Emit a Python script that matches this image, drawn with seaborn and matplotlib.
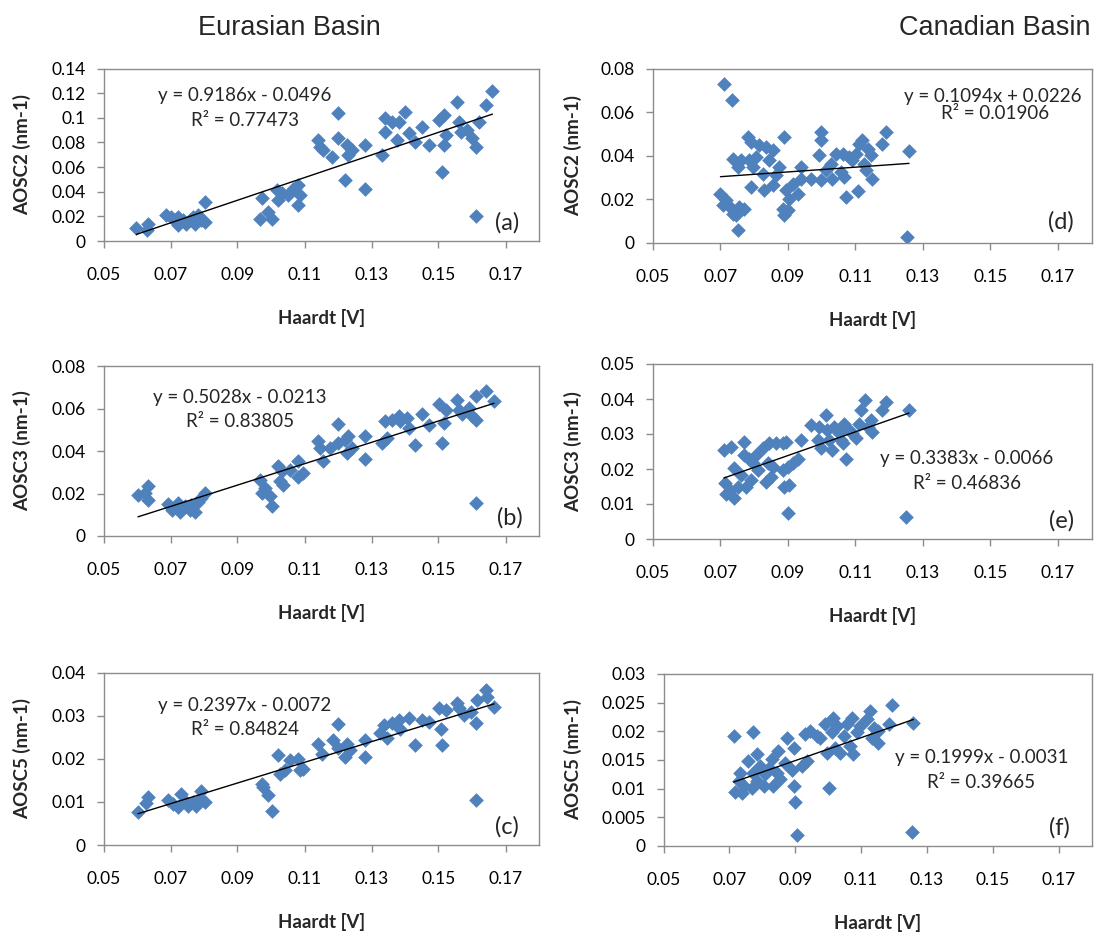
import numpy as np
import matplotlib
matplotlib.use("Agg")
import matplotlib.pyplot as plt
from matplotlib.ticker import FuncFormatter, MultipleLocator
import seaborn as sns

# ---- data ----
# Eurasian Basin
a_x = [0.0598, 0.0633, 0.0630, 0.0688, 0.0702, 0.0722, 0.0722, 0.0737, 0.0747, 0.0757,
       0.0772, 0.0782, 0.0792, 0.0802, 0.0802, 0.0767, 0.0712, 0.0972, 0.0967, 0.0992,
       0.1002, 0.1017, 0.1022, 0.1032, 0.1052, 0.1067, 0.1082, 0.1087, 0.1082, 0.1141,
       0.1146, 0.1156, 0.1181, 0.1201, 0.1201, 0.1221, 0.1226, 0.1231, 0.1241, 0.1281,
       0.1281, 0.1331, 0.1341, 0.1341, 0.1361, 0.1381, 0.1376, 0.1401, 0.1411, 0.1431,
       0.1451, 0.1471, 0.1501, 0.1516, 0.1511, 0.1516, 0.1521, 0.1556, 0.1561, 0.1566,
       0.1586, 0.1601, 0.1611, 0.1611, 0.1621, 0.1641, 0.1661]
a_y = [0.0109, 0.0141, 0.0092, 0.0209, 0.0196, 0.0128, 0.0196, 0.0168, 0.0141, 0.0168,
       0.0141, 0.0209, 0.0168, 0.0155, 0.0318, 0.0196, 0.0168, 0.0345, 0.0182, 0.0236,
       0.0182, 0.0413, 0.0331, 0.0386, 0.0372, 0.0426, 0.0453, 0.0372, 0.0291, 0.0820,
       0.0766, 0.0739, 0.0684, 0.1037, 0.0834, 0.0494, 0.0779, 0.0698, 0.0739, 0.0779,
       0.0426, 0.0698, 0.0888, 0.0997, 0.0969, 0.0969, 0.0820, 0.1051, 0.0874, 0.0806,
       0.0929, 0.0779, 0.0983, 0.1024, 0.0562, 0.0779, 0.0861, 0.1132, 0.0969, 0.0888,
       0.0901, 0.0834, 0.0766, 0.0201, 0.0969, 0.1105, 0.1214]

b_x = [0.0603, 0.0633, 0.0633, 0.0623, 0.0693, 0.0703, 0.0722, 0.0727, 0.0742, 0.0757,
       0.0772, 0.0782, 0.0792, 0.0802, 0.0762, 0.0967, 0.0972, 0.0982, 0.0997, 0.1002,
       0.1022, 0.1027, 0.1032, 0.1037, 0.1057, 0.1082, 0.1082, 0.1097, 0.1141, 0.1146,
       0.1156, 0.1176, 0.1201, 0.1201, 0.1221, 0.1226, 0.1231, 0.1241, 0.1281, 0.1281,
       0.1331, 0.1341, 0.1346, 0.1361, 0.1381, 0.1386, 0.1406, 0.1411, 0.1431, 0.1451,
       0.1471, 0.1501, 0.1511, 0.1516, 0.1521, 0.1556, 0.1561, 0.1571, 0.1591, 0.1601,
       0.1611, 0.1611, 0.1611, 0.1641, 0.1666]
b_y = [0.0194, 0.0233, 0.0170, 0.0202, 0.0151, 0.0123, 0.0154, 0.0115, 0.0139, 0.0123,
       0.0115, 0.0162, 0.0178, 0.0202, 0.0146, 0.0265, 0.0202, 0.0225, 0.0186, 0.0139,
       0.0328, 0.0257, 0.0304, 0.0241, 0.0312, 0.0351, 0.0280, 0.0296, 0.0446, 0.0414,
       0.0351, 0.0414, 0.0529, 0.0438, 0.0454, 0.0391, 0.0469, 0.0414, 0.0469, 0.0362,
       0.0438, 0.0540, 0.0461, 0.0548, 0.0564, 0.0540, 0.0556, 0.0509, 0.0430, 0.0572,
       0.0524, 0.0619, 0.0438, 0.0532, 0.0595, 0.0639, 0.0595, 0.0572, 0.0603, 0.0564,
       0.0548, 0.0157, 0.0658, 0.0682, 0.0635]

c_x = [0.0603, 0.0633, 0.0628, 0.0693, 0.0707, 0.0722, 0.0732, 0.0742, 0.0752, 0.0767,
       0.0777, 0.0792, 0.0802, 0.0787, 0.0972, 0.0977, 0.0992, 0.1002, 0.1022, 0.1027,
       0.1042, 0.1057, 0.1082, 0.1087, 0.1097, 0.1141, 0.1151, 0.1186, 0.1201, 0.1201,
       0.1221, 0.1226, 0.1236, 0.1281, 0.1281, 0.1326, 0.1336, 0.1346, 0.1361, 0.1381,
       0.1386, 0.1411, 0.1431, 0.1451, 0.1471, 0.1501, 0.1506, 0.1511, 0.1521, 0.1556,
       0.1561, 0.1576, 0.1596, 0.1611, 0.1611, 0.1616, 0.1641, 0.1646, 0.1666]
c_y = [0.0076, 0.0111, 0.0097, 0.0105, 0.0095, 0.0088, 0.0119, 0.0103, 0.0091, 0.0099,
       0.0091, 0.0126, 0.0099, 0.0107, 0.0142, 0.0134, 0.0115, 0.0078, 0.0208, 0.0165,
       0.0173, 0.0196, 0.0200, 0.0173, 0.0177, 0.0235, 0.0212, 0.0243, 0.0280, 0.0224,
       0.0204, 0.0235, 0.0220, 0.0243, 0.0204, 0.0259, 0.0278, 0.0247, 0.0282, 0.0290,
       0.0270, 0.0294, 0.0231, 0.0290, 0.0286, 0.0317, 0.0270, 0.0231, 0.0313, 0.0330,
       0.0317, 0.0302, 0.0309, 0.0282, 0.0105, 0.0337, 0.0360, 0.0344, 0.0321]

# Canadian Basin
d_x = [0.0710, 0.0734, 0.0700, 0.0707, 0.0717, 0.0727, 0.0736, 0.0746, 0.0751, 0.0756,
       0.0771, 0.0736, 0.0751, 0.0761, 0.0781, 0.0791, 0.0786, 0.0796, 0.0791, 0.0805,
       0.0815, 0.0825, 0.0830, 0.0835, 0.0845, 0.0855, 0.0855, 0.0865, 0.0874, 0.0889,
       0.0884, 0.0889, 0.0894, 0.0899, 0.0904, 0.0914, 0.0929, 0.0938, 0.0938, 0.0968,
       0.0993, 0.0998, 0.0998, 0.0998, 0.1012, 0.1027, 0.1032, 0.1042, 0.1057, 0.1062,
       0.1067, 0.1071, 0.1081, 0.1091, 0.1101, 0.1109, 0.1111, 0.1121, 0.1126, 0.1131,
       0.1136, 0.1145, 0.1150, 0.1180, 0.1190, 0.1259, 0.1254]
d_y = [0.0731, 0.0654, 0.0225, 0.0172, 0.0195, 0.0164, 0.0133, 0.0126, 0.0057, 0.0164,
       0.0156, 0.0386, 0.0348, 0.0379, 0.0486, 0.0463, 0.0379, 0.0348, 0.0256, 0.0394,
       0.0448, 0.0317, 0.0241, 0.0440, 0.0379, 0.0425, 0.0264, 0.0310, 0.0348, 0.0486,
       0.0156, 0.0126, 0.0241, 0.0149, 0.0202, 0.0271, 0.0225, 0.0348, 0.0294, 0.0294,
       0.0402, 0.0509, 0.0470, 0.0287, 0.0333, 0.0363, 0.0294, 0.0409, 0.0325, 0.0409,
       0.0302, 0.0210, 0.0394, 0.0379, 0.0409, 0.0238, 0.0455, 0.0470, 0.0363, 0.0333,
       0.0432, 0.0402, 0.0294, 0.0455, 0.0509, 0.0421, 0.0026]

e_x = [0.0710, 0.0732, 0.0712, 0.0715, 0.0727, 0.0741, 0.0741, 0.0751, 0.0761, 0.0771,
       0.0771, 0.0776, 0.0786, 0.0791, 0.0796, 0.0805, 0.0810, 0.0825, 0.0835, 0.0840,
       0.0845, 0.0850, 0.0855, 0.0865, 0.0884, 0.0884, 0.0889, 0.0894, 0.0899, 0.0899,
       0.0904, 0.0914, 0.0929, 0.0938, 0.0968, 0.0988, 0.0993, 0.0998, 0.1012, 0.1017,
       0.1022, 0.1032, 0.1037, 0.1052, 0.1057, 0.1062, 0.1067, 0.1071, 0.1081, 0.1091,
       0.1101, 0.1111, 0.1116, 0.1129, 0.1136, 0.1145, 0.1150, 0.1180, 0.1190, 0.1259,
       0.1249]
e_y = [0.0254, 0.0264, 0.0159, 0.0130, 0.0140, 0.0116, 0.0202, 0.0150, 0.0183, 0.0278,
       0.0240, 0.0150, 0.0230, 0.0169, 0.0216, 0.0240, 0.0197, 0.0259, 0.0164, 0.0216,
       0.0273, 0.0178, 0.0207, 0.0273, 0.0273, 0.0197, 0.0150, 0.0278, 0.0207, 0.0075,
       0.0154, 0.0216, 0.0230, 0.0283, 0.0326, 0.0283, 0.0321, 0.0259, 0.0354, 0.0311,
       0.0283, 0.0254, 0.0321, 0.0302, 0.0283, 0.0273, 0.0330, 0.0228, 0.0311, 0.0302,
       0.0288, 0.0330, 0.0369, 0.0397, 0.0321, 0.0340, 0.0307, 0.0369, 0.0392, 0.0369,
       0.0062]

f_x = [0.0713, 0.0718, 0.0733, 0.0728, 0.0743, 0.0738, 0.0758, 0.0771, 0.0768, 0.0773,
       0.0784, 0.0784, 0.0794, 0.0804, 0.0809, 0.0819, 0.0829, 0.0834, 0.0844, 0.0849,
       0.0854, 0.0870, 0.0875, 0.0890, 0.0895, 0.0895, 0.0900, 0.0905, 0.0920, 0.0935,
       0.0930, 0.0946, 0.0966, 0.0976, 0.0991, 0.0996, 0.1004, 0.1011, 0.1016, 0.1022,
       0.1027, 0.1037, 0.1047, 0.1057, 0.1067, 0.1072, 0.1077, 0.1087, 0.1097, 0.1118,
       0.1128, 0.1133, 0.1138, 0.1153, 0.1153, 0.1184, 0.1194, 0.1259, 0.1254]
f_y = [0.0192, 0.0095, 0.0127, 0.0113, 0.0104, 0.0092, 0.0148, 0.0198, 0.0101, 0.0127,
       0.0160, 0.0113, 0.0139, 0.0104, 0.0125, 0.0136, 0.0151, 0.0104, 0.0127, 0.0165,
       0.0116, 0.0145, 0.0189, 0.0133, 0.0104, 0.0171, 0.0076, 0.0019, 0.0139, 0.0148,
       0.0195, 0.0201, 0.0192, 0.0189, 0.0212, 0.0163, 0.0101, 0.0198, 0.0224, 0.0171,
       0.0209, 0.0163, 0.0192, 0.0212, 0.0174, 0.0224, 0.0160, 0.0198, 0.0209, 0.0221,
       0.0236, 0.0189, 0.0206, 0.0180, 0.0201, 0.0212, 0.0246, 0.0214, 0.0025]

# trendline coefficients (slope, intercept) and R^2 as printed
fits = {
    "a": (0.9186, -0.0496, "0.77473"),
    "b": (0.5028, -0.0213, "0.83805"),
    "c": (0.2397, -0.0072, "0.84824"),
    "d": (0.1094, 0.0226, "0.01906"),
    "e": (0.3383, -0.0066, "0.46836"),
    "f": (0.1999, -0.0031, "0.39665"),
}
ylabels = {"a": "AOSC2 (nm-1)", "b": "AOSC3 (nm-1)", "c": "AOSC5 (nm-1)",
           "d": "AOSC2 (nm-1)", "e": "AOSC3 (nm-1)", "f": "AOSC5 (nm-1)"}
ymax = {"a": 0.14, "b": 0.08, "c": 0.04, "d": 0.08, "e": 0.05, "f": 0.03}
ystep = {"a": 0.02, "b": 0.02, "c": 0.01, "d": 0.02, "e": 0.01, "f": 0.005}
xticks = [0.05, 0.07, 0.09, 0.11, 0.13, 0.15, 0.17]
data = {"a": (a_x, a_y), "b": (b_x, b_y), "c": (c_x, c_y),
        "d": (d_x, d_y), "e": (e_x, e_y), "f": (f_x, f_y)}

# ---- layout (pixels) ----
W, H = 1101, 934
rects = {  # left, top, right, bottom
    "a": (103.5, 68.5, 539, 241),
    "b": (103.5, 366, 539, 536),
    "c": (103.5, 672.5, 539, 845),
    "d": (653, 68.5, 1091.5, 242.5),
    "e": (653, 364, 1091.5, 539),
    "f": (663.5, 674, 1091.5, 846),
}
eq_pos = {  # centre x, centre y of line1 and line2
    "a": ((245, 95), (245, 120)),
    "b": ((240, 397), (240, 421)),
    "c": ((245, 705), (245, 729)),
    "d": ((993, 96), (995, 113)),
    "e": ((967, 458), (967, 483)),
    "f": ((982, 757), (981, 782)),
}
tag_pos = {"a": (495, 223), "b": (497, 518), "c": (495, 827),
           "d": (1048, 222), "e": (1049, 521), "f": (1049, 828)}
ylab_x = {"a": 22, "b": 22, "c": 22, "d": 573, "e": 573, "f": 573}

sns.set_style("white")
plt.rcParams["font.family"] = ["Lato", "DejaVu Sans"]

blue = "#4F81BD"
grey = "#8C8C8C"
fig = plt.figure(figsize=(W / 100, H / 100), dpi=100)


def fmt(v, pos):
    s = f"{v:.3f}".rstrip("0").rstrip(".")
    return s


for key in "abcdef":
    l, t, r, b = rects[key]
    ax = fig.add_axes([l / W, 1 - b / H, (r - l) / W, (b - t) / H])
    xs, ys = data[key]
    sns.scatterplot(x=xs, y=ys, ax=ax, marker="D", s=56, color=blue,
                    linewidth=0, zorder=2)
    slope, icpt, r2 = fits[key]
    xl = np.array([min(xs), max(xs)])
    ax.plot(xl, slope * xl + icpt, color="black", lw=1.0, zorder=3)

    ax.set_xlim(0.05, 0.18)
    ax.set_ylim(0, ymax[key])
    ax.set_xticks(xticks)
    ax.yaxis.set_major_locator(MultipleLocator(ystep[key]))
    ax.yaxis.set_major_formatter(FuncFormatter(fmt))
    ax.xaxis.set_major_formatter(FuncFormatter(fmt))
    for sp in ax.spines.values():
        sp.set_color(grey)
        sp.set_linewidth(1.0)
    ax.tick_params(axis="both", direction="out", length=5, width=1, color=grey,
                   labelsize=12.5, labelcolor="black")
    ax.tick_params(axis="y", pad=8)
    ax.tick_params(axis="x", pad=14)
    ax.tick_params(left=True, bottom=True)

    w_px, h_px = r - l, b - t
    ax.set_xlabel("Haardt [V]", fontsize=13.5, fontweight="bold")
    ax.xaxis.set_label_coords(0.5, -77 / h_px)
    ax.xaxis.label.set_va("center")
    ax.set_ylabel(ylabels[key], fontsize=13.5, fontweight="bold")
    ax.yaxis.set_label_coords(-(l - ylab_x[key]) / w_px, 0.5)
    ax.yaxis.label.set_va("center")

    sign = "-" if icpt < 0 else "+"
    line1 = f"y = {slope:.4f}x {sign} {abs(icpt):.4f}"
    line2 = f"R² = {r2}"
    (x1, y1), (x2, y2) = eq_pos[key]
    fig.text(x1 / W, 1 - (y1 + 6) / H, line1, ha="center", va="baseline", fontsize=13.5)
    fig.text(x2 / W, 1 - (y2 + 6) / H, line2, ha="center", va="baseline", fontsize=13.5)
    tx, ty = tag_pos[key]
    fig.text(tx / W, 1 - ty / H, f"({key})", ha="left", va="center", fontsize=17)

fig.text(289 / W, 1 - 28 / H, "Eurasian Basin", ha="center", va="center",
         fontsize=19.5, family="Liberation Sans")
fig.text(995 / W, 1 - 28 / H, "Canadian Basin", ha="center", va="center",
         fontsize=19.5, family="Liberation Sans")

fig.savefig("out.png", dpi=100, facecolor="white")
